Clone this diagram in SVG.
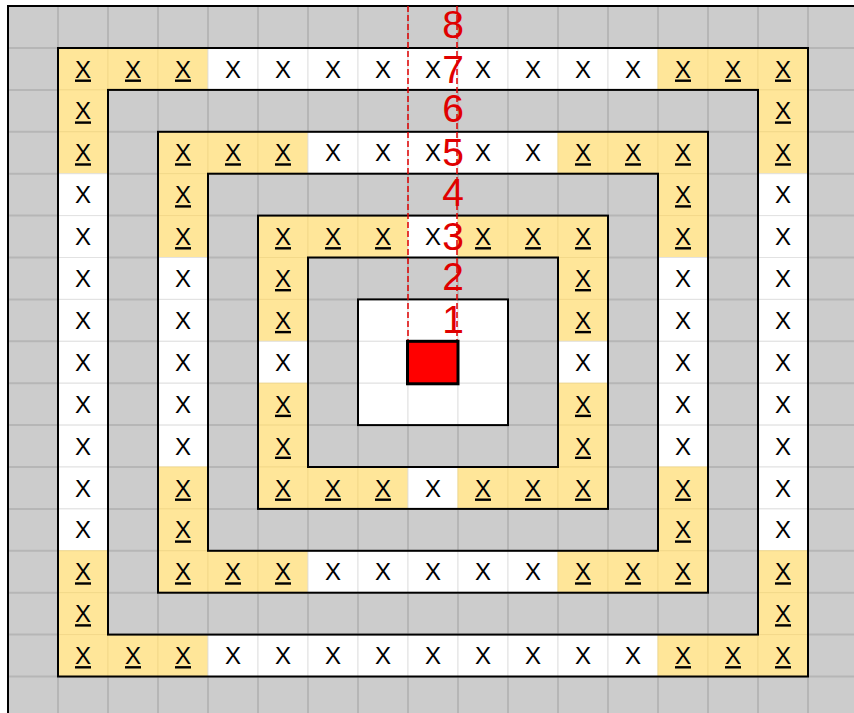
<svg xmlns="http://www.w3.org/2000/svg" width="854" height="713" viewBox="0 0 854 713">
<style>
.y{fill:#ffe699;stroke:#f3d98a;stroke-width:1}
.w{fill:#ffffff;stroke:#e2e2e2;stroke-width:1}
.gl{stroke:#b6b6b6;stroke-width:2}
.x{font-family:"Liberation Sans",Arial,sans-serif;font-size:24px;fill:#000;text-anchor:middle}
.u{text-decoration:underline}
.ring{fill:none;stroke:#000;stroke-width:2}
.num{font-family:"Liberation Sans",Arial,sans-serif;font-size:39px;fill:#e00000;text-anchor:middle}
.dash{stroke:#e00000;stroke-width:1.5;stroke-dasharray:6 3;fill:none}
</style>
<defs>
<rect id="Y" class="y" width="50" height="41.9"/>
<rect id="W" class="w" width="50" height="41.9"/>
</defs>
<rect x="0" y="0" width="854" height="713" fill="#ffffff"/>
<rect x="8" y="6" width="846" height="707" fill="#cccccc"/>
<g id="gridlines" class="gl">
<line x1="58" y1="6" x2="58" y2="713"/><line x1="108" y1="6" x2="108" y2="713"/><line x1="158" y1="6" x2="158" y2="713"/><line x1="208" y1="6" x2="208" y2="713"/><line x1="258" y1="6" x2="258" y2="713"/><line x1="308" y1="6" x2="308" y2="713"/><line x1="358" y1="6" x2="358" y2="713"/><line x1="408" y1="6" x2="408" y2="713"/><line x1="458" y1="6" x2="458" y2="713"/><line x1="508" y1="6" x2="508" y2="713"/><line x1="558" y1="6" x2="558" y2="713"/><line x1="608" y1="6" x2="608" y2="713"/><line x1="658" y1="6" x2="658" y2="713"/><line x1="708" y1="6" x2="708" y2="713"/><line x1="758" y1="6" x2="758" y2="713"/><line x1="808" y1="6" x2="808" y2="713"/>
<line x1="8" y1="48" x2="854" y2="48"/><line x1="8" y1="89.9" x2="854" y2="89.9"/><line x1="8" y1="131.8" x2="854" y2="131.8"/><line x1="8" y1="173.7" x2="854" y2="173.7"/><line x1="8" y1="215.6" x2="854" y2="215.6"/><line x1="8" y1="257.5" x2="854" y2="257.5"/><line x1="8" y1="299.4" x2="854" y2="299.4"/><line x1="8" y1="341.3" x2="854" y2="341.3"/><line x1="8" y1="383.2" x2="854" y2="383.2"/><line x1="8" y1="425.1" x2="854" y2="425.1"/><line x1="8" y1="467" x2="854" y2="467"/><line x1="8" y1="508.9" x2="854" y2="508.9"/><line x1="8" y1="550.8" x2="854" y2="550.8"/><line x1="8" y1="592.7" x2="854" y2="592.7"/><line x1="8" y1="634.6" x2="854" y2="634.6"/><line x1="8" y1="676.5" x2="854" y2="676.5"/>
</g>
<g id="row1" transform="translate(0,48)">
<use href="#Y" x="58"/><use href="#Y" x="108"/><use href="#Y" x="158"/><use href="#W" x="208"/><use href="#W" x="258"/><use href="#W" x="308"/><use href="#W" x="358"/><use href="#W" x="408"/><use href="#W" x="458"/><use href="#W" x="508"/><use href="#W" x="558"/><use href="#W" x="608"/><use href="#Y" x="658"/><use href="#Y" x="708"/><use href="#Y" x="758"/>
<text class="x u" x="83" y="29.5">X</text><text class="x u" x="133" y="29.5">X</text><text class="x u" x="183" y="29.5">X</text><text class="x" x="233" y="29.5">X</text><text class="x" x="283" y="29.5">X</text><text class="x" x="333" y="29.5">X</text><text class="x" x="383" y="29.5">X</text><text class="x" x="433" y="29.5">X</text><text class="x" x="483" y="29.5">X</text><text class="x" x="533" y="29.5">X</text><text class="x" x="583" y="29.5">X</text><text class="x" x="633" y="29.5">X</text><text class="x u" x="683" y="29.5">X</text><text class="x u" x="733" y="29.5">X</text><text class="x u" x="783" y="29.5">X</text>
</g>
<g id="row2" transform="translate(0,89.9)">
<use href="#Y" x="58"/><use href="#Y" x="758"/>
<text class="x u" x="83" y="29.5">X</text><text class="x u" x="783" y="29.5">X</text>
</g>
<g id="row3" transform="translate(0,131.8)">
<use href="#Y" x="58"/><use href="#Y" x="158"/><use href="#Y" x="208"/><use href="#Y" x="258"/><use href="#W" x="308"/><use href="#W" x="358"/><use href="#W" x="408"/><use href="#W" x="458"/><use href="#W" x="508"/><use href="#Y" x="558"/><use href="#Y" x="608"/><use href="#Y" x="658"/><use href="#Y" x="758"/>
<text class="x u" x="83" y="29.5">X</text><text class="x u" x="183" y="29.5">X</text><text class="x u" x="233" y="29.5">X</text><text class="x u" x="283" y="29.5">X</text><text class="x" x="333" y="29.5">X</text><text class="x" x="383" y="29.5">X</text><text class="x" x="433" y="29.5">X</text><text class="x" x="483" y="29.5">X</text><text class="x" x="533" y="29.5">X</text><text class="x u" x="583" y="29.5">X</text><text class="x u" x="633" y="29.5">X</text><text class="x u" x="683" y="29.5">X</text><text class="x u" x="783" y="29.5">X</text>
</g>
<g id="row4" transform="translate(0,173.7)">
<use href="#W" x="58"/><use href="#Y" x="158"/><use href="#Y" x="658"/><use href="#W" x="758"/>
<text class="x" x="83" y="29.5">X</text><text class="x u" x="183" y="29.5">X</text><text class="x u" x="683" y="29.5">X</text><text class="x" x="783" y="29.5">X</text>
</g>
<g id="row5" transform="translate(0,215.6)">
<use href="#W" x="58"/><use href="#Y" x="158"/><use href="#Y" x="258"/><use href="#Y" x="308"/><use href="#Y" x="358"/><use href="#W" x="408"/><use href="#Y" x="458"/><use href="#Y" x="508"/><use href="#Y" x="558"/><use href="#Y" x="658"/><use href="#W" x="758"/>
<text class="x" x="83" y="29.5">X</text><text class="x u" x="183" y="29.5">X</text><text class="x u" x="283" y="29.5">X</text><text class="x u" x="333" y="29.5">X</text><text class="x u" x="383" y="29.5">X</text><text class="x" x="433" y="29.5">X</text><text class="x u" x="483" y="29.5">X</text><text class="x u" x="533" y="29.5">X</text><text class="x u" x="583" y="29.5">X</text><text class="x u" x="683" y="29.5">X</text><text class="x" x="783" y="29.5">X</text>
</g>
<g id="row6" transform="translate(0,257.5)">
<use href="#W" x="58"/><use href="#W" x="158"/><use href="#Y" x="258"/><use href="#Y" x="558"/><use href="#W" x="658"/><use href="#W" x="758"/>
<text class="x" x="83" y="29.5">X</text><text class="x" x="183" y="29.5">X</text><text class="x u" x="283" y="29.5">X</text><text class="x u" x="583" y="29.5">X</text><text class="x" x="683" y="29.5">X</text><text class="x" x="783" y="29.5">X</text>
</g>
<g id="row7" transform="translate(0,299.4)">
<use href="#W" x="58"/><use href="#W" x="158"/><use href="#Y" x="258"/><use href="#W" x="358"/><use href="#W" x="408"/><use href="#W" x="458"/><use href="#Y" x="558"/><use href="#W" x="658"/><use href="#W" x="758"/>
<text class="x" x="83" y="29.5">X</text><text class="x" x="183" y="29.5">X</text><text class="x u" x="283" y="29.5">X</text><text class="x u" x="583" y="29.5">X</text><text class="x" x="683" y="29.5">X</text><text class="x" x="783" y="29.5">X</text>
</g>
<g id="row8" transform="translate(0,341.3)">
<use href="#W" x="58"/><use href="#W" x="158"/><use href="#W" x="258"/><use href="#W" x="358"/><use href="#W" x="458"/><use href="#W" x="558"/><use href="#W" x="658"/><use href="#W" x="758"/>
<text class="x" x="83" y="29.5">X</text><text class="x" x="183" y="29.5">X</text><text class="x" x="283" y="29.5">X</text><text class="x" x="583" y="29.5">X</text><text class="x" x="683" y="29.5">X</text><text class="x" x="783" y="29.5">X</text>
</g>
<g id="row9" transform="translate(0,383.2)">
<use href="#W" x="58"/><use href="#W" x="158"/><use href="#Y" x="258"/><use href="#W" x="358"/><use href="#W" x="408"/><use href="#W" x="458"/><use href="#Y" x="558"/><use href="#W" x="658"/><use href="#W" x="758"/>
<text class="x" x="83" y="29.5">X</text><text class="x" x="183" y="29.5">X</text><text class="x u" x="283" y="29.5">X</text><text class="x u" x="583" y="29.5">X</text><text class="x" x="683" y="29.5">X</text><text class="x" x="783" y="29.5">X</text>
</g>
<g id="row10" transform="translate(0,425.1)">
<use href="#W" x="58"/><use href="#W" x="158"/><use href="#Y" x="258"/><use href="#Y" x="558"/><use href="#W" x="658"/><use href="#W" x="758"/>
<text class="x" x="83" y="29.5">X</text><text class="x" x="183" y="29.5">X</text><text class="x u" x="283" y="29.5">X</text><text class="x u" x="583" y="29.5">X</text><text class="x" x="683" y="29.5">X</text><text class="x" x="783" y="29.5">X</text>
</g>
<g id="row11" transform="translate(0,467)">
<use href="#W" x="58"/><use href="#Y" x="158"/><use href="#Y" x="258"/><use href="#Y" x="308"/><use href="#Y" x="358"/><use href="#W" x="408"/><use href="#Y" x="458"/><use href="#Y" x="508"/><use href="#Y" x="558"/><use href="#Y" x="658"/><use href="#W" x="758"/>
<text class="x" x="83" y="29.5">X</text><text class="x u" x="183" y="29.5">X</text><text class="x u" x="283" y="29.5">X</text><text class="x u" x="333" y="29.5">X</text><text class="x u" x="383" y="29.5">X</text><text class="x" x="433" y="29.5">X</text><text class="x u" x="483" y="29.5">X</text><text class="x u" x="533" y="29.5">X</text><text class="x u" x="583" y="29.5">X</text><text class="x u" x="683" y="29.5">X</text><text class="x" x="783" y="29.5">X</text>
</g>
<g id="row12" transform="translate(0,508.9)">
<use href="#W" x="58"/><use href="#Y" x="158"/><use href="#Y" x="658"/><use href="#W" x="758"/>
<text class="x" x="83" y="29.5">X</text><text class="x u" x="183" y="29.5">X</text><text class="x u" x="683" y="29.5">X</text><text class="x" x="783" y="29.5">X</text>
</g>
<g id="row13" transform="translate(0,550.8)">
<use href="#Y" x="58"/><use href="#Y" x="158"/><use href="#Y" x="208"/><use href="#Y" x="258"/><use href="#W" x="308"/><use href="#W" x="358"/><use href="#W" x="408"/><use href="#W" x="458"/><use href="#W" x="508"/><use href="#Y" x="558"/><use href="#Y" x="608"/><use href="#Y" x="658"/><use href="#Y" x="758"/>
<text class="x u" x="83" y="29.5">X</text><text class="x u" x="183" y="29.5">X</text><text class="x u" x="233" y="29.5">X</text><text class="x u" x="283" y="29.5">X</text><text class="x" x="333" y="29.5">X</text><text class="x" x="383" y="29.5">X</text><text class="x" x="433" y="29.5">X</text><text class="x" x="483" y="29.5">X</text><text class="x" x="533" y="29.5">X</text><text class="x u" x="583" y="29.5">X</text><text class="x u" x="633" y="29.5">X</text><text class="x u" x="683" y="29.5">X</text><text class="x u" x="783" y="29.5">X</text>
</g>
<g id="row14" transform="translate(0,592.7)">
<use href="#Y" x="58"/><use href="#Y" x="758"/>
<text class="x u" x="83" y="29.5">X</text><text class="x u" x="783" y="29.5">X</text>
</g>
<g id="row15" transform="translate(0,634.6)">
<use href="#Y" x="58"/><use href="#Y" x="108"/><use href="#Y" x="158"/><use href="#W" x="208"/><use href="#W" x="258"/><use href="#W" x="308"/><use href="#W" x="358"/><use href="#W" x="408"/><use href="#W" x="458"/><use href="#W" x="508"/><use href="#W" x="558"/><use href="#W" x="608"/><use href="#Y" x="658"/><use href="#Y" x="708"/><use href="#Y" x="758"/>
<text class="x u" x="83" y="29.5">X</text><text class="x u" x="133" y="29.5">X</text><text class="x u" x="183" y="29.5">X</text><text class="x" x="233" y="29.5">X</text><text class="x" x="283" y="29.5">X</text><text class="x" x="333" y="29.5">X</text><text class="x" x="383" y="29.5">X</text><text class="x" x="433" y="29.5">X</text><text class="x" x="483" y="29.5">X</text><text class="x" x="533" y="29.5">X</text><text class="x" x="583" y="29.5">X</text><text class="x" x="633" y="29.5">X</text><text class="x u" x="683" y="29.5">X</text><text class="x u" x="733" y="29.5">X</text><text class="x u" x="783" y="29.5">X</text>
</g>
<g id="rings">
<rect class="ring" x="58" y="48" width="750" height="628.5"/>
<rect class="ring" x="108" y="89.9" width="650" height="544.7"/>
<rect class="ring" x="158" y="131.8" width="550" height="460.9"/>
<rect class="ring" x="208" y="173.7" width="450" height="377.1"/>
<rect class="ring" x="258" y="215.6" width="350" height="293.3"/>
<rect class="ring" x="308" y="257.5" width="250" height="209.5"/>
<rect class="ring" x="358" y="299.4" width="150" height="125.7"/>
</g>
<path id="frame" d="M8,713 V6 H854" fill="none" stroke="#000" stroke-width="2"/>
<g id="connectors">
<line class="dash" x1="408" y1="6" x2="408" y2="341"/>
<line class="dash" x1="457" y1="6" x2="457" y2="341"/>
</g>
<rect id="center" x="407.5" y="341.3" width="50.5" height="42.5" fill="#ff0000" stroke="#000" stroke-width="3"/>
<g id="numbers">
<text class="num" x="453" y="38">8</text>
<text class="num" x="453" y="83">7</text>
<text class="num" x="453" y="122">6</text>
<text class="num" x="453" y="166">5</text>
<text class="num" x="453" y="206">4</text>
<text class="num" x="453" y="250">3</text>
<text class="num" x="453" y="290">2</text>
<text class="num" x="453" y="333">1</text>
</g>
</svg>
